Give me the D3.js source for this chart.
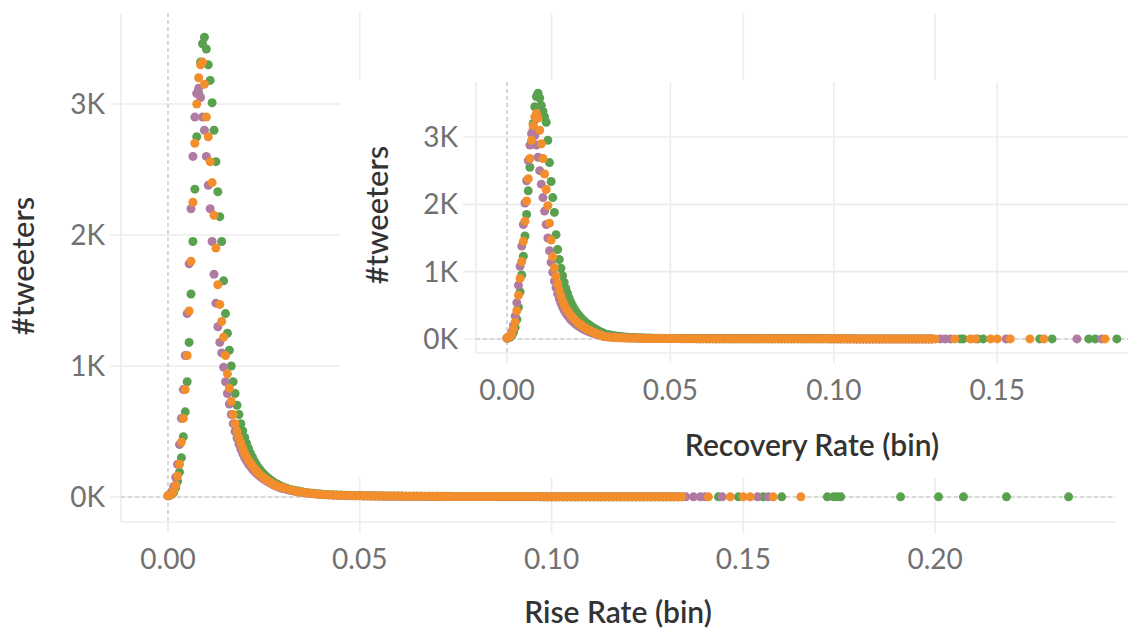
<!DOCTYPE html>
<html>
<head>
<meta charset="utf-8">
<script src="https://cdn.jsdelivr.net/npm/d3@7"></script>
<style>
  body { margin: 0; background: #fff; }
  svg { display: block; font-family: Lato, "Open Sans", sans-serif; }
</style>
</head>
<body>
<svg id="chart" width="1128" height="633"></svg>
<script>
// ---------------- DATA ----------------
// Histogram bins: peak arrays use bins of 0.0005 starting at 0;
// tail arrays use bins of 0.001 starting at 0.030; "far" arrays list isolated bins (1 tweeter).
const peakBin = 0.0005;
const tailStart = 0.030;
const tailBin = 0.001;

const seriesNames = ["green", "purple", "orange"];
const seriesColors = ["#59A14F", "#B07AA1", "#F28E2B"];

// Rise Rate (main chart)
const riseGreenPeak = [10,12,20,35,70,120,190,300,460,650, 880,1180,1550,1950,2350,2750,3080,3320,3460,3510,
  3420,3300,3180,3010,2800,2560,2330,2140,1950,1650, 1400,1250,1120,1000,880,790,700,630,560,505,
  455,410,370,335,305,275,250,228,208,190, 175,160,147,135,124,114,105,97,89,82];
const risePurplePeak = [10,20,40,80,150,250,400,600,820,1080, 1400,1780,2200,2600,2900,3080,3120,3050,2900,2800,
  2600,2380,2200,1950,1700,1480,1300,1180,1100,990, 880,790,710,630,560,500,450,405,365,330,
  300,275,252,232,214,198,183,170,158,146, 136,126,117,108,100,93,86,79,73,68];
const riseOrangePeak = [10,15,25,45,90,160,250,420,600,820, 1080,1420,1800,2250,2700,3000,3200,3300,3320,3150,
  2900,2750,2560,2400,2150,1900,1620,1470,1340,1220, 1080,940,830,730,630,560,500,450,410,370,
  330,305,280,260,240,220,200,185,170,158, 146,135,125,115,106,98,90,84,78,75];

const riseGreenTail = [76,66,58,51,45,40,35,31,28,25, 22,20,18,17,16,15,14,13,12,11, 11,10,10,9,9,8,8,8,7,7,
  7,7,6,6,6,6,6,5,5,5, 5,5,5,5,4,4,4,4,4,4, 4,4,4,4,3,3,3,3,3,3, 3,3,3,3,3,3,3,3,2,2,
  2,2,2,2,2,2,2,2,2,2, 2,2,2,2,2,2,2,2,1,1, 1,1,1,1,1,1,1,1,1,1, 1,1,1,1];
const risePurpleTail = [64,56,49,43,38,34,30,27,24,21, 19,17,16,14,13,12,11,10,10,9, 9,8,8,8,7,7,7,6,6,6,
  6,5,5,5,5,5,5,4,4,4, 4,4,4,4,4,3,3,3,3,3, 3,3,3,3,3,3,2,2,2,2, 2,2,2,2,2,2,2,2,2,2,
  2,2,2,2,2,1,1,1,1,1, 1,1,1,1,1,1,1,1,1,1, 1,1,1,1,1,1,1,1,1,1, 1,1,1,1,1,1];
const riseOrangeTail = [72,62,54,47,41,36,32,28,25,22, 20,18,17,15,14,13,12,11,11,10, 10,9,9,8,8,8,7,7,7,7,
  6,6,6,6,5,5,5,5,5,5, 5,4,4,4,4,4,4,4,4,4, 4,4,3,3,3,3,3,3,3,3, 3,3,3,3,3,3,3,2,2,2,
  2,2,2,2,2,2,2,2,2,2, 2,2,2,2,2,2,2,2,2,2, 2,1,1,1,1,1,1,1,1,1, 1,1,1,1,1];

const riseGreenFar = [0.1435,0.1487,0.1552,0.1600,0.1719,0.1735,0.1745,0.1754,0.1910,0.2009,0.2074,0.2186,0.2348];
const risePurpleFar = [0.1370,0.1388,0.1400,0.1445,0.1537,0.1565];
const riseOrangeFar = [0.1409,0.1466,0.1500,0.1518,0.1578,0.1650];

// Recovery Rate (inset chart)
const recGreenPeak = [10,18,30,55,100,170,290,470,700,950, 1230,1530,1850,2200,2550,2900,3200,3450,3600,3650,
  3580,3470,3380,3300,3220,2950,2620,2340,2100,1880, 1550,1330,1180,1050,940,840,750,680,610,550,
  500,455,415,380,350,322,296,272,250,230, 212,195,178,162,148,134,120,108,96,85];
const recPurplePeak = [15,30,55,110,200,340,540,800,1080,1380, 1700,2020,2350,2650,2880,3050,3100,3020,2880,2700,
  2500,2300,2100,1900,1700,1500,1310,1140,990,860, 760,670,595,530,475,425,385,350,318,290,
  265,243,222,204,187,172,158,145,133,122, 112,102,93,85,77,70,63,57,51,46];
const recOrangePeak = [15,25,40,80,150,250,420,650,900,1150, 1450,1750,2050,2380,2680,2950,3170,3300,3350,3280,
  3100,2900,2680,2450,2220,1980,1720,1470,1220,1060, 930,820,720,640,570,510,460,420,390,355,
  325,298,273,250,230,212,195,178,162,148, 135,122,110,98,88,78,68,58,48,40];

const recGreenTail = [76,66,57,49,42,36,31,27,24,21, 19,17,15,14,13,12,11,10,9,9, 8,8,7,7,7,6,6,6,6,5,
  5,5,5,5,4,4,4,4,4,4, 4,3,3,3,3,3,3,3,3,3, 3,3,2,2,2,2,2,2,2,2, 2,2,2,2,2,2,2,2,2,2,
  2,2,2,2,2,2,2,1,1,1, 1,1,1,1,1,1,1,1,1,1, 1,1,1,1,1,1,1,1,1,1, 1];
const recPurpleTail = [40,34,29,25,22,20,18,16,14,13, 12,11,10,9,9,8,8,7,7,7, 6,6,6,5,5,5,5,5,4,4,
  4,4,4,4,4,3,3,3,3,3, 3,3,3,3,3,3,2,2,2,2, 2,2,2,2,2,2,2,2,2,2, 2,2,2,2,2,2,2,2,2,1,
  1,1,1,1,1,1,1,1,1,1, 1,1,1,1,1,1,1,1,1,1, 1,1,1,1,1,1,1,1,1,1, 1];
const recOrangeTail = [34,28,24,21,19,17,15,14,13,12, 11,10,9,9,8,8,7,7,7,6, 6,6,6,5,5,5,5,5,4,4,
  4,4,4,4,4,3,3,3,3,3, 3,3,3,3,3,3,3,2,2,2, 2,2,2,2,2,2,2,2,2,2, 2,2,2,2,2,2,2,2,2,2,
  2,2,2,2,1,1,1,1,1,1, 1,1,1,1,1,1,1,1,1,1, 1,1,1,1,1,1,1,1,1,1, 1,1];

const recGreenFar = [0.1387,0.1396,0.1440,0.1457,0.1630,0.1668,0.1780,0.1800,0.1866];
const recPurpleFar = [0.1326,0.1341,0.1357,0.1527,0.1744,0.1820];
const recOrangeFar = [0.1370,0.1418,0.1433,0.1480,0.1500,0.1540,0.1600,0.1643,0.1830];

const riseTicksX = [0, 0.05, 0.10, 0.15, 0.20];
const recTicksX = [0, 0.05, 0.10, 0.15];
const countTicks = [0, 1000, 2000, 3000];
const riseTitle = "Rise Rate (bin)";
const recTitle = "Recovery Rate (bin)";
const yTitle = "#tweeters";

// ---------------- HELPERS ----------------
function buildPoints(peak, tail, far) {
  const pts = [];
  peak.forEach((c, i) => pts.push({ x: i * peakBin, y: c }));
  tail.forEach((c, i) => pts.push({ x: tailStart + i * tailBin, y: c }));
  far.forEach(v => pts.push({ x: v, y: 1 }));
  return pts;
}

const riseSeries = [
  buildPoints(riseGreenPeak, riseGreenTail, riseGreenFar),
  buildPoints(risePurplePeak, risePurpleTail, risePurpleFar),
  buildPoints(riseOrangePeak, riseOrangeTail, riseOrangeFar)
];
const recSeries = [
  buildPoints(recGreenPeak, recGreenTail, recGreenFar),
  buildPoints(recPurplePeak, recPurpleTail, recPurpleFar),
  buildPoints(recOrangePeak, recOrangeTail, recOrangeFar)
];

const svg = d3.select("#chart");
const GRID = "#ececec";
const ZERO = "#bdbdbd";
const TICK_TXT = "#717171";
const TITLE_TXT = "#333333";
const fmtX = d3.format(".2f");
const fmtY = d => (d / 1000) + "K";

function drawPanel(g, cfg) {
  const { x, y, left, right, top, bottom, gridLeft, tickBottom, series, ticksX,
          yLabelX, xLabelY, xTitle, xTitleX, xTitleY, yTitleX, yTitleY } = cfg;

  g.selectAll(".hgrid").data(countTicks).join("line")
    .attr("x1", gridLeft).attr("x2", right)
    .attr("y1", d => y(d)).attr("y2", d => y(d))
    .attr("stroke", GRID).attr("stroke-width", 1.6);

  g.selectAll(".vgrid").data(ticksX.filter(d => d !== 0)).join("line")
    .attr("x1", d => x(d)).attr("x2", d => x(d))
    .attr("y1", top).attr("y2", tickBottom)
    .attr("stroke", GRID).attr("stroke-width", 1.6);

  g.append("line").attr("x1", x(0)).attr("x2", x(0))
    .attr("y1", bottom).attr("y2", tickBottom)
    .attr("stroke", GRID).attr("stroke-width", 1.6);

  g.append("line").attr("x1", left).attr("x2", left).attr("y1", top).attr("y2", bottom)
    .attr("stroke", GRID).attr("stroke-width", 1.6);
  g.append("line").attr("x1", left).attr("x2", right).attr("y1", bottom).attr("y2", bottom)
    .attr("stroke", GRID).attr("stroke-width", 1.6);

  g.append("line").attr("x1", x(0)).attr("x2", x(0)).attr("y1", top).attr("y2", bottom)
    .attr("stroke", ZERO).attr("stroke-width", 1.2).attr("stroke-dasharray", "4,3");
  g.append("line").attr("x1", left).attr("x2", right).attr("y1", y(0)).attr("y2", y(0))
    .attr("stroke", ZERO).attr("stroke-width", 1.2).attr("stroke-dasharray", "4,3");

  series.forEach((pts, si) => {
    g.append("g").selectAll("circle").data(pts.filter(p => p.y > 0)).join("circle")
      .attr("cx", d => x(d.x)).attr("cy", d => y(d.y)).attr("r", 4.5)
      .attr("fill", seriesColors[si]);
  });

  g.selectAll(".ylab").data(countTicks).join("text")
    .attr("x", yLabelX).attr("y", d => y(d)).attr("dy", "0.36em")
    .attr("text-anchor", "end").attr("font-size", 28).attr("fill", TICK_TXT)
    .text(fmtY);

  g.selectAll(".xlab").data(ticksX).join("text")
    .attr("x", d => x(d)).attr("y", xLabelY)
    .attr("text-anchor", "middle").attr("font-size", 28).attr("fill", TICK_TXT)
    .text(fmtX);

  g.append("text").attr("x", xTitleX).attr("y", xTitleY).attr("text-anchor", "middle")
    .attr("font-size", 30).attr("font-weight", 600).attr("fill", TITLE_TXT).text(xTitle);
  g.append("text").attr("transform", `translate(${yTitleX},${yTitleY}) rotate(-90)`)
    .attr("text-anchor", "middle")
    .attr("font-size", 31).attr("font-weight", 500).attr("fill", TITLE_TXT).text(yTitle);
}

// ---------------- MAIN CHART ----------------
const mainX = d3.scaleLinear().domain([-0.01225, 0.2469]).range([121, 1115]);
const mainY = d3.scaleLinear().domain([-190.8, 3694.7]).range([522, 13]);
const mainG = svg.append("g");
drawPanel(mainG, {
  x: mainX, y: mainY, left: 121, right: 1115, top: 13, bottom: 522, gridLeft: 110, tickBottom: 533,
  series: riseSeries, ticksX: riseTicksX, yLabelX: 105, xLabelY: 569,
  xTitle: riseTitle, xTitleX: 618, xTitleY: 623, yTitleX: 34, yTitleY: 266
});

// ---------------- INSET CHART ----------------
svg.append("rect").attr("x", 340).attr("y", 80).attr("width", 788).attr("height", 398).attr("fill", "#fff");
const insetX = d3.scaleLinear().domain([-0.00949, 0.19002]).range([476, 1128]);
const insetY = d3.scaleLinear().domain([-208, 3817]).range([353, 82]);
const insetG = svg.append("g");
drawPanel(insetG, {
  x: insetX, y: insetY, left: 476, right: 1128, top: 82, bottom: 353, gridLeft: 463, tickBottom: 363,
  series: recSeries, ticksX: recTicksX, yLabelX: 458, xLabelY: 400,
  xTitle: recTitle, xTitleX: 812, xTitleY: 456, yTitleX: 388, yTitleY: 215
});
</script>
</body>
</html>
